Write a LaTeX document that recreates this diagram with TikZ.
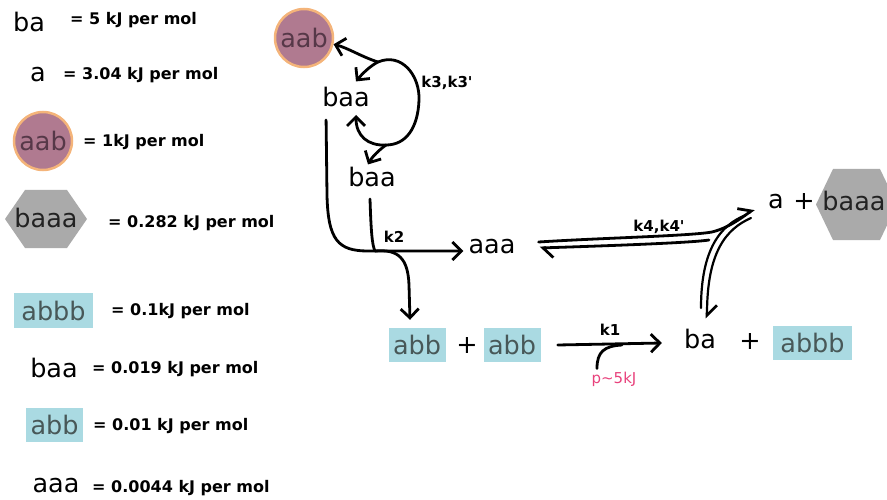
\documentclass[tikz,border=0pt]{standalone}
\usepackage{fontspec}
\setmainfont{DejaVu Sans}
\usetikzlibrary{arrows.meta,calc}

\definecolor{ringfill}{RGB}{176,122,144}
\definecolor{ringedge}{RGB}{244,180,122}
\definecolor{ringtext}{RGB}{86,56,72}
\definecolor{tagfill}{RGB}{170,218,226}
\definecolor{tagtext}{RGB}{72,88,88}
\definecolor{hexfill}{RGB}{170,170,170}
\definecolor{hextext}{RGB}{34,34,34}
\definecolor{pinktext}{RGB}{232,66,124}

\tikzset{
  molfont/.style={font=\fontsize{25.5}{30}\selectfont},
  mol/.style={molfont, inner sep=0pt, anchor=base},
  plussign/.style={molfont, inner sep=0pt},
  energy/.style={font=\bfseries\fontsize{16}{19}\selectfont, inner sep=0pt, anchor=base west},
  rate/.style={font=\bfseries\fontsize{15}{18}\selectfont, inner sep=0pt, anchor=base},
  note/.style={font=\fontsize{15}{18}\selectfont, text=pinktext, inner sep=0pt, anchor=base},
  ring/.style={circle, fill=ringfill, draw=ringedge, line width=2.5pt, minimum size=58pt,
    inner sep=0pt, text=ringtext, molfont},
  tag/.style={rectangle, fill=tagfill, minimum width=57pt, minimum height=34pt,
    inner sep=0pt, text=tagtext, molfont},
  link/.style={line width=2.8pt, line cap=round, line join=round},
  arr/.style={link, -{Straight Barb[length=9pt,width=18pt]}},
  harp/.style={link, -{Straight Barb[length=10pt,width=20pt,harpoon]}},
  strand/.style={line width=2.2pt, line cap=round},
}

\begin{document}
\begin{tikzpicture}[x=1pt,y=-1pt]
\useasboundingbox (0,0) rectangle (887,500);

% ---------- legend ----------
\node[mol] (lba) at (29,32) {ba};
\node[energy] (eba) at (70,25) {= 5 kJ per mol};

\node[mol] (la) at (38,82) {a};
\node[energy] (ea) at (63,80) {= 3.04 kJ per mol};

\node[ring] (laab) at (43,141) {aab};
\node[energy] (eaab) at (83,147) {= 1kJ per mol};

\fill[hexfill] (5,219) -- (25,190) -- (67,190) -- (87,219) -- (67,248) -- (25,248) -- cycle;
\node[mol, text=hextext] (lbaaa) at (46,228) {baaa};
\node[energy] (ebaaa) at (108,228) {= 0.282 kJ per mol};

\node[tag, minimum width=79pt, minimum height=35pt] (labbb) at (53.5,310.5) {abbb};
\node[energy] (eabbb) at (111,315) {= 0.1kJ per mol};

\node[mol] (lbaa) at (54,377) {baa};
\node[energy] (ebaa) at (92,373) {= 0.019 kJ per mol};

\node[tag] (labb) at (54.5,425) {abb};
\node[energy] (eabb) at (93,430) {= 0.01 kJ per mol};

\node[mol] (laaa) at (56,492) {aaa};
\node[energy] (eaaa) at (92,492) {= 0.0044 kJ per mol};

% ---------- reaction scheme ----------
\node[ring] (aab) at (304,38) {aab};
\node[mol] (baa1) at (346,107) {baa};
\node[mol] (baa2) at (372,187) {baa};
\node[mol] (aaa) at (492,253) {aaa};

\node[mol] (a) at (776,208) {a};
\node[plussign] (plus1) at (804,202) {+};
\fill[hexfill] (816,204.5) -- (833,169) -- (880,169) -- (897,204.5) -- (880,240) -- (833,240) -- cycle;
\node[mol, text=hextext] (baaa) at (854,211) {baaa};

\node[tag] (abb1) at (417,345) {abb};
\node[plussign] (plus2) at (467,346) {+};
\node[tag] (abb2) at (512,345) {abb};

\node[mol] (ba) at (700,348) {ba};
\node[plussign] (plus3) at (750,342) {+};
\node[tag, minimum width=79pt] (abbb) at (812.5,342.5) {abbb};

\node[rate] (k3) at (447,88) {k3,k3\textquotesingle};
\node[rate] (k2) at (394,243) {k2};
\node[rate] (k4) at (659,231) {k4,k4\textquotesingle};
\node[rate] (k1) at (610,335) {k1};
\node[note] (p) at (614,383) {p\textasciitilde 5kJ};

% junctions of the k3 loop and the k2 branch
\coordinate (top) at (378,62);
\coordinate (bottom) at (386,145);
\coordinate (merge) at (375,251);
\coordinate (split) at (709,240);

% k3 loop around the upper baa
\draw[arr] (top) .. controls (362,57) and (348,48) .. (aab.-12);
\draw[arr] (top) .. controls (370,66) and (362,74) .. ($(baa1.north)+(10,-6)$);
\draw[link] (top) .. controls (402,52) and (420,76) .. (419,100)
  .. controls (418,128) and (406,145) .. (bottom);
\draw[arr] (bottom) .. controls (368,146) and (356,136) .. ($(baa1.base)+(10,8)$);
\draw[arr] (bottom) .. controls (379,150) and (372,157) .. ($(baa2.north)+(-4,-3)$);

% k2 branch
\draw[arr] ($(baa1.base west)+(4,13)$) -- (327,195)
  .. controls (328,240) and (338,251) .. (368,251) -- ($(aaa.base west)+(-5,-2)$);
\draw[link] ($(baa2.base)+(-2,12)$) .. controls (371,230) and (372,245) .. (merge);
\draw[arr] (merge) .. controls (398,249) and (408,258) .. (409,285)
  -- ($(abb1.north)+(-7,-8)$);

% k4 equilibrium
\draw[harp] ($(aaa.base east)+(23,-11)$) .. controls (600,238) and (690,236) .. (712,232)
  .. controls (728,228) and (740,219) .. ($(a.base west)+(-14,1)$);
\draw[harp] (split) .. controls (690,243) and (600,246) .. ($(aaa.base east)+(24,-5)$);

% double arrow down to ba
\draw[strand] ($(a.base west)+(-22,7)$) .. controls (720,225) and (701,250) .. (701,308);
\draw[strand, -{Straight Barb[length=10pt,width=20pt,harpoon,line width=2.6pt]}]
  ($(a.base west)+(-17,10)$) .. controls (726,229) and (707,252) .. ($(ba.north)+(7,-10)$);

% k1 step
\draw[arr] ($(abb2.east)+(17,0)$) -- ($(ba.base west)+(-22,-5)$);
\draw[link] ($(p.north)+(-17,-3)$) .. controls (597,352) and (604,346) .. (622,345);
\end{tikzpicture}
\end{document}
